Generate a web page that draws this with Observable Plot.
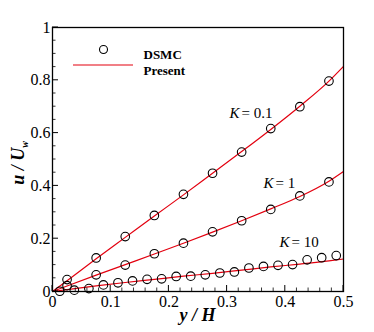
<!DOCTYPE html>
<html>
<head>
<meta charset="utf-8">
<script src="https://cdn.jsdelivr.net/npm/d3@7"></script>
<script src="https://cdn.jsdelivr.net/npm/@observablehq/plot@0.6"></script>
<style>
  html, body { margin: 0; padding: 0; background: #fff; }
  #chart svg { display: block; }
</style>
</head>
<body>
<div id="chart"></div>
<script>
// DSMC data
const dsmcX = [0.025, 0.075, 0.125, 0.175, 0.225, 0.275, 0.325, 0.375, 0.425, 0.475];
const dsmcK01 = [0.045, 0.127, 0.208, 0.288, 0.368, 0.448, 0.528, 0.617, 0.700, 0.797];
const dsmcK1  = [0.022, 0.063, 0.100, 0.143, 0.183, 0.226, 0.268, 0.311, 0.362, 0.415];
const dsmcK10X = [0.0125, 0.0375, 0.0625, 0.0875, 0.1125, 0.1375, 0.1625, 0.1875, 0.2125, 0.2375,
                  0.2625, 0.2875, 0.3125, 0.3375, 0.3625, 0.3875, 0.4125, 0.4375, 0.4625, 0.4875];
const dsmcK10 = [0.001, 0.005, 0.011, 0.025, 0.033, 0.040, 0.046, 0.048, 0.057, 0.058,
                 0.063, 0.070, 0.074, 0.089, 0.095, 0.099, 0.102, 0.120, 0.128, 0.136];

// "Present" model curves
const lineX   = [0, 0.025, 0.075, 0.125, 0.175, 0.225, 0.275, 0.325, 0.375, 0.425, 0.475, 0.5];
const lineK01 = [0, 0.041, 0.124, 0.205, 0.286, 0.366, 0.448, 0.530, 0.614, 0.702, 0.797, 0.853];
const lineK1  = [0, 0.021, 0.062, 0.102, 0.142, 0.183, 0.225, 0.268, 0.313, 0.360, 0.418, 0.455];
const lineK10 = [0, 0.007, 0.021, 0.034, 0.046, 0.058, 0.069, 0.081, 0.093, 0.104, 0.116, 0.123];

// annotations
const kLabels = [
  {x: 0.304, y: 0.675, v: "= 0.1"},
  {x: 0.3625, y: 0.41, v: "= 1"},
  {x: 0.390, y: 0.186, v: "= 10"}
];

const xMajor = [0, 0.1, 0.2, 0.3, 0.4, 0.5];
const xMajorLabels = ["0", "0.1", "0.2", "0.3", "0.4", "0.5"];
const xMinor = [0.02, 0.04, 0.06, 0.08, 0.12, 0.14, 0.16, 0.18, 0.22, 0.24, 0.26, 0.28,
                0.32, 0.34, 0.36, 0.38, 0.42, 0.44, 0.46, 0.48];
const yMajor = [0, 0.2, 0.4, 0.6, 0.8, 1];
const yMajorLabels = ["0", "0.2", "0.4", "0.6", "0.8", "1"];
const yMinor = [0.05, 0.1, 0.15, 0.25, 0.3, 0.35, 0.45, 0.5, 0.55, 0.65, 0.7, 0.75, 0.85, 0.9, 0.95];

const toPts = (xs, ys) => xs.map((x, i) => ({x, y: ys[i]}));
const lines = [lineK01, lineK1, lineK10].map(ys => toPts(lineX, ys));
const dots = [...toPts(dsmcX, dsmcK01), ...toPts(dsmcX, dsmcK1), ...toPts(dsmcK10X, dsmcK10)];

const RED = "#e3000f";
const W = 374, H = 332;
const mL = 52, mR = 31, mT = 27, mB = 41;
const innerH = H - mT - mB;
const innerW = W - mL - mR;
const serif = "Liberation Serif, Times New Roman, serif";

const chart = Plot.plot({
  width: W, height: H,
  marginLeft: mL, marginRight: mR, marginTop: mT, marginBottom: mB,
  style: {fontFamily: serif, fontSize: "16px", background: "#fff", color: "#000"},
  x: {domain: [0, 0.5], label: null},
  y: {domain: [0, 1], label: null},
  marks: [
    Plot.axisX(xMajor, {tickSize: 0, tickPadding: 4, tickFormat: (d, i) => xMajorLabels[i], fontSize: 16, fontFamily: serif}),
    Plot.axisY(yMajor, {tickSize: 0, tickPadding: 2, tickFormat: (d, i) => yMajorLabels[i], fontSize: 16, fontFamily: serif}),
    ...lines.map(pts => Plot.line(pts, {x: "x", y: "y", stroke: RED, strokeWidth: 1.2, curve: "monotone-x"})),
    Plot.dot(dots, {x: "x", y: "y", r: 4.3, stroke: "#000", strokeWidth: 1.1, fill: "none"}),
    // K labels
    Plot.text(kLabels, {x: "x", y: "y", text: () => "K", textAnchor: "start", fontStyle: "italic", fontSize: 15, fontFamily: serif}),
    Plot.text(kLabels, {x: "x", y: "y", text: "v", textAnchor: "start", dx: 12, fontSize: 15, fontFamily: serif}),
    // legend
    Plot.dot([0], {frameAnchor: "top-left", dx: 51, dy: 22, r: 4, stroke: "#000", strokeWidth: 1.1, fill: "none"}),
    Plot.text(["DSMC"], {frameAnchor: "top-left", dx: 91, dy: 22, textAnchor: "start", fontWeight: "bold", fontSize: 13, fontFamily: serif}),
    Plot.text(["Present"], {frameAnchor: "top-left", dx: 91, dy: 38, textAnchor: "start", fontWeight: "bold", fontSize: 13, fontFamily: serif}),
    Plot.frame({stroke: "#000", strokeWidth: 1.3})
  ]
});

const svg = d3.select(chart);
const sx = chart.scale("x"), sy = chart.scale("y");
const y0 = sy.apply(0), x0 = sx.apply(0);

// inward ticks placed through Plot's own scales
const tg = svg.append("g").attr("stroke", "#000");
xMajor.forEach(v => tg.append("line").attr("x1", sx.apply(v)).attr("x2", sx.apply(v))
  .attr("y1", y0).attr("y2", y0 - 6).attr("stroke-width", 1));
xMinor.forEach(v => tg.append("line").attr("x1", sx.apply(v)).attr("x2", sx.apply(v))
  .attr("y1", y0).attr("y2", y0 - 3.5).attr("stroke-width", 0.8));
yMajor.forEach(v => tg.append("line").attr("y1", sy.apply(v)).attr("y2", sy.apply(v))
  .attr("x1", x0).attr("x2", x0 + 6).attr("stroke-width", 1));
yMinor.forEach(v => tg.append("line").attr("y1", sy.apply(v)).attr("y2", sy.apply(v))
  .attr("x1", x0).attr("x2", x0 + 3.5).attr("stroke-width", 0.8));

// legend line
svg.append("line")
  .attr("x1", mL + 21).attr("x2", mL + 81)
  .attr("y1", mT + 38).attr("y2", mT + 38)
  .attr("stroke", RED).attr("stroke-width", 1.2);

// axis titles
const xl = svg.append("text")
  .attr("x", mL + innerW / 2).attr("y", H - 11)
  .attr("text-anchor", "middle")
  .attr("font-family", serif).attr("font-size", 18)
  .attr("font-weight", "bold").attr("font-style", "italic")
  .attr("fill", "#000");
xl.text("y / H");

const yl = svg.append("text")
  .attr("transform", `translate(24, ${mT + innerH / 2 + 4}) rotate(-90)`)
  .attr("text-anchor", "middle")
  .attr("font-family", serif).attr("font-size", 18)
  .attr("font-weight", "bold").attr("font-style", "italic")
  .attr("fill", "#000");
yl.append("tspan").text("u / U");
yl.append("tspan").attr("font-size", 10).attr("dy", 4).text("w");

document.getElementById("chart").appendChild(chart);
</script>
</body>
</html>
